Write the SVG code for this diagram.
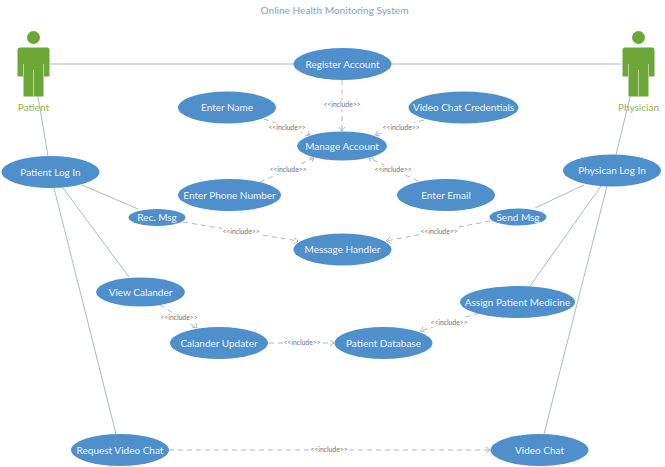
<svg xmlns="http://www.w3.org/2000/svg" width="665" height="467" viewBox="0 0 665 467">
<style>
text{font-family:Lato,"Liberation Sans",sans-serif}
.u ellipse{fill:#4e8fcc}
.u text{fill:#eef5fb;font-size:10px;text-anchor:middle}
.s{stroke:#a9b8c6;stroke-width:1;fill:none}
.d{stroke:#a9b8c6;stroke-width:1;fill:none;stroke-dasharray:5 4}
.a{stroke:#a9b8c6;stroke-width:1;fill:none}
.l{fill:#6b7278;font-size:6.8px;text-anchor:middle}
.lb{fill:#fff;stroke:none}
.actor{fill:#6ca636}
.sep{stroke:#cfe0bd;stroke-width:.8;fill:none}
.at{fill:#8cb560;font-size:10px;text-anchor:middle}
</style>
<rect width="665" height="467" fill="#fff"/>
<text x="334.500" y="14" font-size="10.100" fill="#7fa4c4" text-anchor="middle">Online Health Monitoring System</text>
<g id="connectors">
<path class="s" d="M50 64H294M391 64H622M38 97L48 156M630 97L616 155M82 185L138 209M584 185L535 208M63 188L129 277M601 186L530 286M54 188L116 434M607 186L544 434"/>
<path class="d" d="M342 80V130"/><path class="a" d="M339 127L342 131L345 127"/>
<path class="d" d="M264 119L310 135"/><path class="a" d="M305 136L310 135L308 131"/>
<path class="d" d="M424 120L375 135"/><path class="a" d="M380 136L375 135L378 131"/>
<path class="d" d="M260 182L314 158"/><path class="a" d="M309 158L314 158L312 162"/>
<path class="d" d="M418 181L369 158"/><path class="a" d="M374 158L369 158L371 162"/>
<path class="d" d="M183 222L298 241"/><path class="a" d="M294 238L298 241L294 244"/>
<path class="d" d="M490 221L386 241"/><path class="a" d="M390 237L386 241L391 243"/>
<path class="d" d="M160 305L197 328"/><path class="a" d="M192 327L197 328L196 323"/>
<path class="d" d="M269 343H334"/><path class="a" d="M330 340L334 343L330 346"/>
<path class="d" d="M479 313L420 331"/><path class="a" d="M425 332L420 331L423 327"/>
<path class="d" d="M169 450H490"/><path class="a" d="M486 447L490 450L486 453"/>
</g>
<g id="edge-labels">
<g class="lb"><rect x="323" y="100" width="38" height="9"/><rect x="268" y="123" width="38" height="9"/><rect x="382" y="123" width="38" height="9"/><rect x="269" y="165" width="38" height="9"/><rect x="374" y="165" width="38" height="9"/><rect x="222" y="227" width="38" height="9"/><rect x="420" y="227" width="38" height="9"/><rect x="160" y="313" width="38" height="9"/><rect x="283" y="339" width="38" height="9"/><rect x="431" y="318" width="38" height="9"/><rect x="310" y="446" width="38" height="9"/></g>
<text class="l" x="342" y="107">&lt;&lt;include&gt;&gt;</text>
<text class="l" x="287" y="130">&lt;&lt;include&gt;&gt;</text>
<text class="l" x="401" y="130">&lt;&lt;include&gt;&gt;</text>
<text class="l" x="288" y="172">&lt;&lt;include&gt;&gt;</text>
<text class="l" x="393" y="172">&lt;&lt;include&gt;&gt;</text>
<text class="l" x="241" y="234">&lt;&lt;include&gt;&gt;</text>
<text class="l" x="439" y="234">&lt;&lt;include&gt;&gt;</text>
<text class="l" x="179" y="320">&lt;&lt;include&gt;&gt;</text>
<text class="l" x="302" y="345">&lt;&lt;include&gt;&gt;</text>
<text class="l" x="449" y="325">&lt;&lt;include&gt;&gt;</text>
<text class="l" x="329" y="452">&lt;&lt;include&gt;&gt;</text>
</g>
<g id="patient">
<g class="actor"><circle cx="33.500" cy="37.500" r="6.500"/><path d="M20 47.500H47Q49.500 47.500 49.500 50V76.500H43.500V96.500H23.500V76.500H17.500V50Q17.500 47.500 20 47.500Z"/></g>
<path class="sep" d="M23.500 64V76.500M43.500 64V76.500M33.500 70V96.500"/>
<text class="at" x="33.500" y="111">Patient</text>
</g>
<g id="physician">
<g class="actor"><circle cx="638.500" cy="37.500" r="6.500"/><path d="M625 47.500H652Q654.500 47.500 654.500 50V76.500H648.500V96.500H628.500V76.500H622.500V50Q622.500 47.500 625 47.500Z"/></g>
<path class="sep" d="M628.500 64V76.500M648.500 64V76.500M638.500 70V96.500"/>
<text class="at" x="638.500" y="111">Physician</text>
</g>
<g class="u">
<g id="register-account"><ellipse cx="342.500" cy="64" rx="49" ry="16"/><text x="342.500" y="67.500">Register Account</text></g>
<g id="enter-name"><ellipse cx="227" cy="107.500" rx="49" ry="16"/><text x="227" y="111">Enter Name</text></g>
<g id="video-chat-credentials"><ellipse cx="463.500" cy="107.500" rx="55" ry="16"/><text x="463.500" y="111">Video Chat Credentials</text></g>
<g id="manage-account"><ellipse cx="342" cy="146" rx="45" ry="14.500"/><text x="342" y="149.500">Manage Account</text></g>
<g id="enter-phone-number"><ellipse cx="229.500" cy="195" rx="51.500" ry="16"/><text x="229.500" y="198.500">Enter Phone Number</text></g>
<g id="enter-email"><ellipse cx="446" cy="195" rx="49" ry="16"/><text x="446" y="198.500">Enter Email</text></g>
<g id="patient-log-in"><ellipse cx="50.500" cy="172" rx="49" ry="16"/><text x="50.500" y="175.500">Patient Log In</text></g>
<g id="physican-log-in"><ellipse cx="612" cy="170.500" rx="49" ry="16"/><text x="612" y="174">Physican Log In</text></g>
<g id="rec-msg"><ellipse cx="157" cy="217.500" rx="28.500" ry="8.500"/><text x="157" y="221">Rec. Msg</text></g>
<g id="send-msg"><ellipse cx="518" cy="217" rx="28.500" ry="8.500"/><text x="518" y="220.500">Send Msg</text></g>
<g id="message-handler"><ellipse cx="342.500" cy="249.500" rx="49" ry="16"/><text x="342.500" y="253">Message Handler</text></g>
<g id="view-calander"><ellipse cx="140.500" cy="292" rx="44.500" ry="14.500"/><text x="140.500" y="295.500">View Calander</text></g>
<g id="assign-patient-medicine"><ellipse cx="517.500" cy="302" rx="57.500" ry="16"/><text x="517.500" y="305.500">Assign Patient Medicine</text></g>
<g id="calander-updater"><ellipse cx="219" cy="343" rx="49" ry="16"/><text x="219" y="346.500">Calander Updater</text></g>
<g id="patient-database"><ellipse cx="383.500" cy="343" rx="49" ry="16"/><text x="383.500" y="346.500">Patient Database</text></g>
<g id="request-video-chat"><ellipse cx="120" cy="450" rx="49" ry="16"/><text x="120" y="453.500">Request Video Chat</text></g>
<g id="video-chat"><ellipse cx="539.500" cy="450" rx="49" ry="16"/><text x="539.500" y="453.500">Video Chat</text></g>
</g>
</svg>
